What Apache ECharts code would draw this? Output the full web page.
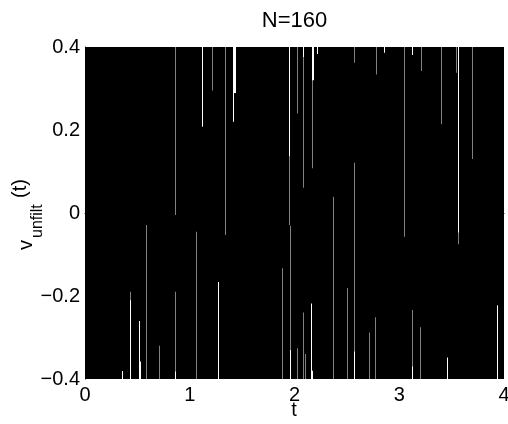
<!DOCTYPE html>
<html><head><meta charset="utf-8">
<script src="https://cdn.jsdelivr.net/npm/echarts@6/dist/echarts.min.js"></script>
<style>html,body{margin:0;padding:0;background:#fff}#c{width:508px;height:424px}</style>
</head><body><div id="c"></div>
<script>
const chartTitle = 'N=160';
const xName = 't';
const xTicks = [0, 1, 2, 3, 4];
const yTicks = [-0.4, -0.2, 0, 0.2, 0.4];

// the dense trace v_unfilt(t) covers the whole band: its envelope
const envelopeT = [0, 4];
const envelopeMax = [0.4, 0.4];

// slivers left uncovered by the trace, reaching down from the top edge
const topGapT   = [0.859, 1.120, 1.210, 1.337, 1.410, 1.410, 1.950, 1.950, 2.027, 2.084, 2.084, 2.164, 2.164, 2.218, 2.571, 2.775, 2.858, 3.045, 3.119, 3.208, 3.396, 3.538, 3.557, 3.557, 3.692];
const topGapEnd = [-0.005, 0.208, 0.295, -0.053, 0.289, 0.220, 0.137, -0.029, 0.240, 0.376, 0.061, 0.320, 0.108, 0.383, 0.362, 0.334, 0.386, -0.057, 0.381, 0.342, 0.214, 0.338, -0.047, -0.075, 0.130];
const topGapW   = [0.0048, 0.0095, 0.0048, 0.0048, 0.0286, 0.0095, 0.0095, 0.0048, 0.0048, 0.0095, 0.0048, 0.019, 0.0048, 0.0095, 0.0048, 0.0048, 0.0095, 0.0048, 0.0095, 0.0048, 0.0048, 0.0048, 0.0095, 0.0048, 0.0048];

// slivers left uncovered by the trace, reaching up from the bottom edge
const botGapT     = [0.356, 0.430, 0.430, 0.518, 0.518, 0.580, 0.706, 0.859, 0.859, 1.057, 1.273, 1.884, 1.957, 1.957, 2.021, 2.084, 2.103, 2.158, 2.158, 2.365, 2.498, 2.571, 2.571, 2.711, 2.768, 3.119, 3.119, 3.198, 3.459, 3.930];
const botGapStart = [-0.381, -0.190, -0.210, -0.260, -0.358, -0.029, -0.320, -0.190, -0.382, -0.045, -0.166, -0.133, -0.031, -0.330, -0.326, -0.240, -0.340, -0.218, -0.380, 0.039, -0.181, 0.121, -0.334, -0.288, -0.251, -0.234, -0.370, -0.275, -0.348, -0.222];
const botGapW     = [0.0095, 0.0048, 0.0095, 0.0095, 0.019, 0.0048, 0.0048, 0.0048, 0.0095, 0.0048, 0.0095, 0.0048, 0.0048, 0.0095, 0.0048, 0.0048, 0.0048, 0.0095, 0.019, 0.0048, 0.0048, 0.0048, 0.0095, 0.0048, 0.0048, 0.0048, 0.0095, 0.0048, 0.0095, 0.0095];

const FONT = '"Liberation Sans", Arial, Helvetica, sans-serif';
const yMin = yTicks[0], yMax = yTicks[yTicks.length - 1];

const gapData = [];
topGapT.forEach((t, i) => gapData.push([t, topGapEnd[i], topGapW[i], 1]));
botGapT.forEach((t, i) => gapData.push([t, botGapStart[i], botGapW[i], -1]));

function renderGap(params, api) {
  const t = api.value(0), yEnd = api.value(1), w = api.value(2), side = api.value(3);
  const p = api.coord([t, yEnd]);
  const edge = api.coord([t, side > 0 ? yMax : yMin])[1];
  const wPx = api.size([w, 0])[0];
  const x0 = Math.round(p[0]);
  return {
    type: 'rect',
    shape: { x: x0, y: Math.min(p[1], edge), width: wPx, height: Math.abs(p[1] - edge) },
    style: { fill: '#fff' }
  };
}

const chart = echarts.init(document.getElementById('c'), null, { renderer: 'canvas' });
chart.setOption({
  animation: false,
  backgroundColor: '#fff',
  grid: { left: 85, right: 4, top: 47, bottom: 45, containLabel: false, outerBoundsMode: 'none' },
  xAxis: {
    type: 'value', min: xTicks[0], max: xTicks[xTicks.length - 1], interval: xTicks[1] - xTicks[0],
    axisLine: { show: true, lineStyle: { color: '#000', width: 1 } },
    axisTick: { show: false }, splitLine: { show: false },
    axisLabel: { color: '#000', fontSize: 20, fontFamily: FONT, margin: 6 }
  },
  yAxis: {
    type: 'value', min: yMin, max: yMax, interval: yTicks[1] - yTicks[0],
    axisLine: { show: true, lineStyle: { color: '#000', width: 1 } },
    axisTick: { show: false }, splitLine: { show: false },
    axisLabel: {
      color: '#000', fontSize: 20, fontFamily: FONT, margin: 5,
      formatter: v => { const r = Math.round(v * 10) / 10; return r === 0 ? '0' : (r < 0 ? '\u2212' : '') + Math.abs(r).toFixed(1); }
    }
  },
  series: [
    {
      type: 'line', data: envelopeT.map((t, i) => [t, envelopeMax[i]]),
      symbol: 'none', lineStyle: { color: '#000', width: 0 },
      areaStyle: { color: '#000', opacity: 1, origin: 'start' }, silent: true, z: 1
    },
    {
      type: 'custom', data: gapData, renderItem: renderGap, clip: true, silent: true, z: 2
    }
  ],
  graphic: [
    { type: 'text', x: 294.5, y: 20.5, style: { text: chartTitle, font: '22px ' + FONT, fill: '#000', align: 'center', verticalAlign: 'middle' } },
    { type: 'text', x: 294, y: 410, style: { text: xName, font: '20px ' + FONT, fill: '#000', align: 'center', verticalAlign: 'middle' } },
    {
      type: 'group', x: 33, y: 250, rotation: Math.PI / 2,
      children: [
        { type: 'text', x: 0, y: -7, style: { text: 'v', font: '20px ' + FONT, fill: '#000', align: 'left', verticalAlign: 'middle' } },
        { type: 'text', x: 12, y: 4.4, style: { text: 'unfilt', font: '16px ' + FONT, fill: '#000', align: 'left', verticalAlign: 'middle' } },
        { type: 'text', x: 52, y: -13, style: { text: '(t)', font: '20px ' + FONT, fill: '#000', align: 'left', verticalAlign: 'middle' } }
      ]
    }
  ]
});
</script>
</body></html>
